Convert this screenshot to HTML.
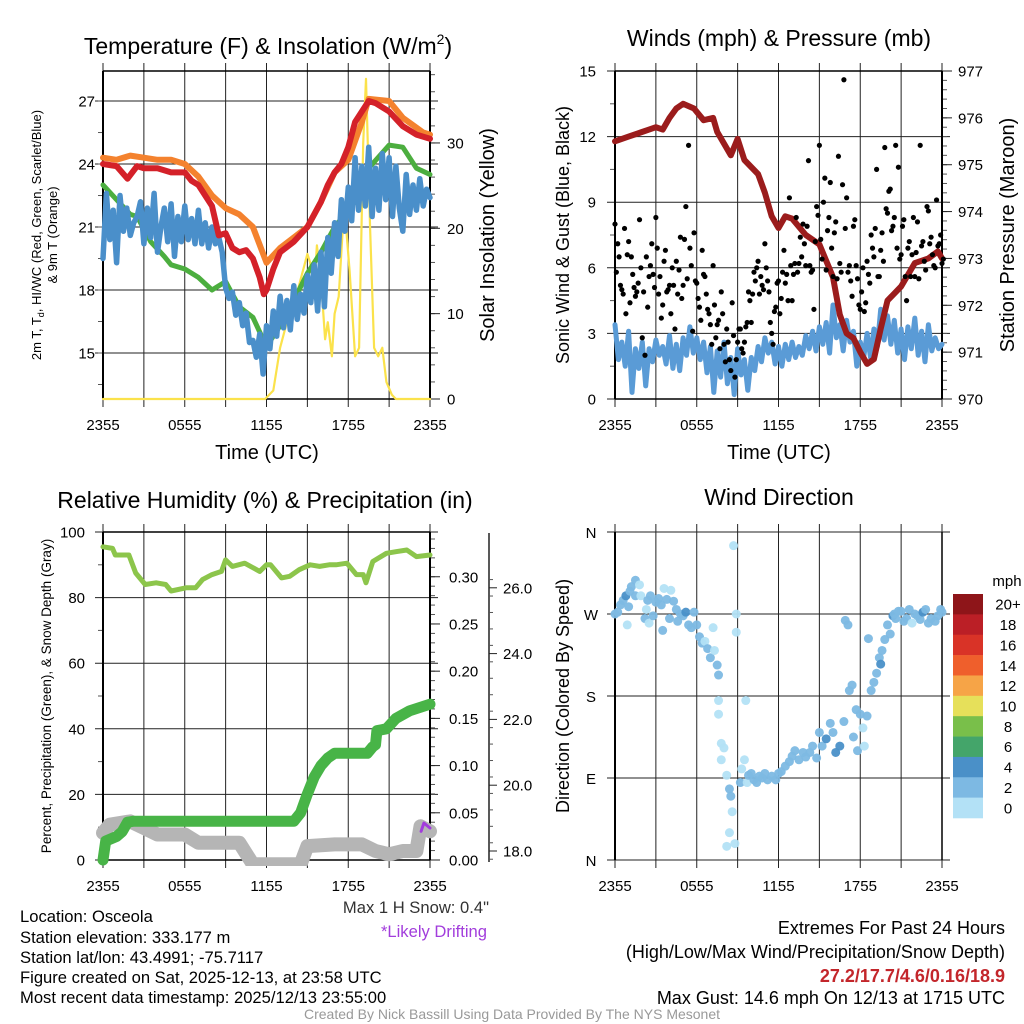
<!DOCTYPE html>
<html><head><meta charset="utf-8"><style>
html,body{margin:0;padding:0;background:#fff;}
svg{display:block;font-family:"Liberation Sans",sans-serif;}
</style></head><body>
<svg id="fig" width="1024" height="1024" viewBox="0 0 1024 1024" xmlns="http://www.w3.org/2000/svg">
<rect x="0" y="0" width="1024" height="1024" fill="#fff"/>
<g id="layer"></g>
<text x="268" y="54" font-size="23" text-anchor="middle">Temperature (F) &amp; Insolation (W/m<tspan font-size="14" dy="-10">2</tspan><tspan dy="10">)</tspan></text>
<text x="779" y="46" font-size="23" text-anchor="middle">Winds (mph) &amp; Pressure (mb)</text>
<text x="265" y="508" font-size="23" text-anchor="middle">Relative Humidity (%) &amp; Precipitation (in)</text>
<text x="779" y="505" font-size="23" text-anchor="middle">Wind Direction</text>
<text x="267" y="459" font-size="20" text-anchor="middle">Time (UTC)</text>
<text x="779" y="459" font-size="20" text-anchor="middle">Time (UTC)</text>
<text transform="translate(41,235) rotate(-90)" font-size="13" text-anchor="middle">2m T, T<tspan font-size="9" dy="3">d</tspan><tspan dy="-3">, HI/WC (Red, Green, Scarlet/Blue)</tspan></text>
<text transform="translate(57,235) rotate(-90)" font-size="13" text-anchor="middle">&amp; 9m T (Orange)</text>
<text transform="translate(494,235) rotate(-90)" font-size="20" text-anchor="middle">Solar Insolation (Yellow)</text>
<text transform="translate(569,235) rotate(-90)" font-size="18" text-anchor="middle">Sonic Wind &amp; Gust (Blue, Black)</text>
<text transform="translate(1014,235) rotate(-90)" font-size="20" text-anchor="middle">Station Pressure (Maroon)</text>
<text transform="translate(51,696) rotate(-90)" font-size="13.5" text-anchor="middle">Percent, Precipitation (Green), &amp; Snow Depth (Gray)</text>
<text transform="translate(569,696) rotate(-90)" font-size="18" text-anchor="middle">Direction (Colored By Speed)</text>
<text x="1007" y="586" font-size="15" text-anchor="middle">mph</text>
<g font-size="16.6">
<text x="20" y="922">Location: Osceola</text>
<text x="20" y="943">Station elevation: 333.177 m</text>
<text x="20" y="963">Station lat/lon: 43.4991; -75.7117</text>
<text x="20" y="983">Figure created on Sat, 2025-12-13, at 23:58 UTC</text>
<text x="20" y="1003">Most recent data timestamp: 2025/12/13 23:55:00</text>
</g>
<text x="489" y="913" font-size="16.6" text-anchor="end" fill="#333">Max 1 H Snow: 0.4"</text>
<text x="487" y="937" font-size="16.6" text-anchor="end" fill="#a23ddc">*Likely Drifting</text>
<g font-size="18" text-anchor="end">
<text x="1005" y="934">Extremes For Past 24 Hours</text>
<text x="1005" y="958">(High/Low/Max Wind/Precipitation/Snow Depth)</text>
<text x="1005" y="982" fill="#c3262b" font-weight="bold">27.2/17.7/4.6/0.16/18.9</text>
<text x="1005" y="1004">Max Gust: 14.6 mph On 12/13 at 1715 UTC</text>
</g>
<text x="512" y="1019" font-size="14" text-anchor="middle" fill="#999">Created By Nick Bassill Using Data Provided By The NYS Mesonet</text>
</svg>
<script>
// ---------- data ----------
const xTickLabels = ["2355","0555","1155","1755","2355"];
const tempTicks = [15,18,21,24,27];
const insTicks = [0,10,20,30];
const windTicks = [0,3,6,9,12,15];
const presTicks = [970,971,972,973,974,975,976,977];
const rhTicks = [0,20,40,60,80,100];
const precipTicks = [0.00,0.05,0.10,0.15,0.20,0.25,0.30];
const snowTicks = [18.0,20.0,22.0,24.0,26.0];
const dirTicks = ["N","E","S","W","N"];
const speedBins = ["0","2","4","6","8","10","12","14","16","18","20+"];
const speedColors = ["#b3e1f6","#7db9e3","#4a90c8","#44a56a","#79bf4a","#e6e05a","#f6a447","#ef5f2c","#d93327","#bb1f26","#8e1519"];

const tHours = [0,1,1.8,2.5,3,4,5,6,6.5,7,8,8.5,9,9.5,10,10.5,11,11.5,11.8,12,12.5,13,14,15,16,16.5,17,17.5,18,18.5,19,19.5,20,21,22,23,24];
const temp2m = [24.0,23.9,23.3,23.9,23.8,23.8,23.6,23.6,23.2,23.0,22.0,20.6,20.7,20.0,19.8,19.9,19.5,18.6,17.8,18.0,19.0,19.8,20.3,21.0,22.2,23.0,23.6,24.0,24.8,26.0,26.5,27.0,26.9,26.5,25.8,25.4,25.2];
const t9Hours = [0,1,2,3,4,5,6,7,8,9,10,11,12,13,14,15,16,17,18,19,19.5,21,22,23.5,24];
const temp9m = [24.3,24.2,24.4,24.3,24.2,24.2,24.0,23.4,22.5,21.9,21.6,21.0,19.3,20.0,20.5,21.0,22.2,23.6,24.2,26.0,27.1,27.0,26.2,25.5,25.4];
const tdHours = [0,1,2,2.5,3.5,4.5,5,6,7,8,9,10,11,12,13,14,15,16,17,18,18.8,19.5,21,22,23,24];
const dewpoint = [23.0,22.3,21.6,21.5,20.3,19.6,19.2,19.0,18.6,18.0,18.4,17.2,16.7,15.3,16.3,17.5,18.8,19.8,21.0,21.8,22.5,23.8,24.9,24.8,23.8,23.5];
const windChill = [19.5,22.6,20.4,21.8,19.3,22.5,20.8,21.9,20.6,21.2,21.5,22.2,20.2,21.9,20.5,22.6,19.8,21.0,21.9,20.3,22.1,19.6,21.5,20.3,22.0,20.4,21.4,20.2,21.8,20.2,21.2,20.0,
21.0,20.2,20.5,19.8,18.1,17.6,17.9,16.8,17.4,16.3,16.9,15.5,15.6,14.8,15.9,14.0,16.3,15.2,17.0,15.8,17.7,16.2,17.5,16.1,18.2,16.6,17.8,16.9,18.7,17.4,19.2,17.0,19.8,17.2,20.5,18.8,21.2,19.6,22.3,20.8,22.9,21.3,24.3,21.8,23.9,22.0,24.8,21.5,23.8,21.8,24.5,22.3,24.3,21.5,23.9,21.9,20.8,23.5,21.6,23.0,21.8,23.3,22.0,22.8,22.4];
const insHours = [0,11.9,12.5,13,13.5,14,14.5,15,15.2,15.5,15.7,16,16.3,16.5,16.8,17,17.3,17.6,17.8,18.1,18.5,18.8,19.1,19.3,19.6,19.9,20.2,20.5,20.8,21.2,21.5,24];
const insolation = [0,0,1,6,9,11,14,17,16,13,18,14,7,9,5,10,12,20,21,15,5,6,30,37.5,20,6,5,6,2,0.5,0,0];

const presHours = [0,1,2,3,3.5,4,4.5,5,5.8,6.5,7.2,7.5,8.5,9,9.5,10.5,11,11.5,12,12.5,13,14,15,16,16.5,17,17.5,18,18.5,19,19.5,20,21,22,23,23.7,24];
const pressure = [975.5,975.6,975.7,975.8,975.75,976.0,976.2,976.3,976.2,975.95,976.0,975.7,975.2,975.55,975.1,974.8,974.4,973.9,973.65,973.9,973.85,973.5,973.3,972.6,971.8,971.4,971.3,971.0,970.75,970.85,971.5,972.1,972.4,972.9,973.0,973.15,973.0];
const sustained = [3.4,1.8,2.6,1.5,3.1,0.3,2.3,1.4,2.6,0.6,2.3,1.7,2.7,2.0,2.4,1.6,
2.9,1.4,2.5,1.3,2.8,2.0,3.3,2.1,2.8,1.8,2.6,1.2,2.4,0.3,2.2,1.0,
2.6,0.7,1.9,0.2,2.3,1.1,1.8,0.4,1.9,1.3,2.4,1.7,2.8,2.1,2.6,1.6,
2.4,1.5,2.5,1.8,2.6,1.9,2.4,2.0,2.9,2.3,3.1,2.2,3.3,2.5,3.5,2.1,
4.3,2.8,3.4,2.2,3.6,2.6,3.1,1.5,2.6,1.9,3.0,1.9,3.2,2.4,4.1,2.7,
3.8,2.5,3.6,2.1,3.2,1.8,3.3,2.3,3.7,2.0,3.1,1.7,3.4,2.2,2.8,2.3,2.5];
const gusts = [8.0,7.1,5.2,4.8,3.9,7.2,6.5,5.1,4.9,8.2,
2.8,2.0,4.2,6.1,5.7,8.3,4.8,3.7,6.3,4.9,
5.2,6.0,3.2,4.8,7.4,5.2,8.8,11.6,6.1,7.6,
5.3,4.2,6.8,5.6,4.1,3.4,6.1,2.8,3.6,4.9,
2.5,3.2,1.8,4.4,1.0,2.6,3.2,2.1,3.3,4.9,
3.5,5.8,6.0,4.8,5.2,7.1,5.4,3.5,2.5,4.2,
5.4,4.6,6.8,5.7,9.2,4.5,6.2,5.8,7.4,8.0,
6.1,10.9,5.8,4.1,8.8,11.6,6.4,10.1,7.7,9.9,
5.6,8.1,11.1,5.8,14.6,9.2,6.1,4.7,8.2,5.5,
4.1,6.0,4.4,5.7,7.5,6.5,10.5,5.6,7.6,11.5,
8.5,9.6,7.9,11.6,10.6,6.6,8.2,4.5,7.2,6.6,
5.6,8.1,11.6,7.2,5.9,8.6,7.4,6.1,9.1,7.1,6.2];
const gusts2 = [5.8,6.5,5.0,7.8,6.6,4.4,5.7,4.7,5.3,6.0,
4.9,6.5,5.6,7.1,5.1,6.9,5.6,4.3,6.8,5.0,
3.9,5.2,6.3,5.9,4.6,7.3,5.5,6.9,3.1,5.4,
4.6,3.6,5.7,4.8,3.9,2.5,4.3,3.4,2.3,3.9,
1.7,2.6,1.3,2.9,1.8,3.2,2.3,2.6,3.5,4.5,
4.8,5.4,6.3,5.6,5.0,6.0,4.9,3.0,4.0,5.3,
3.9,5.8,5.3,4.5,6.1,5.7,8.3,6.2,6.5,7.1,
7.9,6.1,5.9,7.2,8.4,7.3,9.0,5.9,8.3,6.9,
7.6,5.5,6.2,9.8,7.8,5.8,5.4,7.9,6.1,4.3,
4.9,4.0,6.3,5.3,6.9,7.8,5.6,6.8,6.3,8.7,
9.5,7.7,8.3,6.9,6.4,7.9,5.6,6.9,5.6,8.3,
6.7,5.5,7.0,6.3,8.8,7.1,6.6,6.0,7.0,7.5,6.4];

const rhHours = [0,0.7,0.9,1.9,2.4,3.1,3.9,4.6,5.0,6.1,6.8,7.3,8,8.7,9,9.5,10.4,11.5,12,12.3,13.1,13.7,14.4,15.2,15.9,16.6,17.1,17.9,18.6,19.1,19.3,19.8,20.8,21.5,22.3,23,24];
const rh = [95.5,95,93,93,87.5,84,84.5,84,82,83,83,85.5,87,88,91.5,89.5,90.5,88,90,90,86,86.5,88.5,90,89.5,90,90,90.5,87,87,84.5,91,93.5,94,94.5,92.5,93];
const prHours = [0,0.2,1,1.4,1.8,2.2,14,14.5,15,15.5,16,16.5,17,19.4,19.8,20,20.1,20.8,21.5,22.5,24];
const precip = [0,0.02,0.025,0.03,0.04,0.041,0.041,0.05,0.07,0.088,0.1,0.108,0.113,0.113,0.12,0.122,0.137,0.139,0.15,0.158,0.165];
const snHours = [0,0.5,2,3,4,6,7,10,11,14.5,15,17,19,20,21,22,23,23.3,24];
const snowDepth = [18.55,18.8,18.9,18.7,18.5,18.5,18.25,18.25,17.6,17.6,18.15,18.2,18.2,18.0,17.9,18.0,18.0,18.75,18.6];
const driftHours = [23.35,23.55,24];
const driftDepth = [18.6,18.85,18.7];

const dirObs = [[0,270,3],[0.2,272,2],[0.4,280,2],[0.6,285,2],[0.8,290,4],[1.0,278,2],[1.1,295,2],[1.2,300,2],[1.5,307,2],[1.8,302,1],[0.9,258,1],[1.5,290,2],[1.9,290,1],[2.2,265,2],[2.4,285,2],[2.3,275,1],[2.6,290,2],[2.5,260,1],[2.8,268,2],[3.0,283,2],[3.2,287,2],[3.4,280,2],[3.5,252,2],[3.6,298,1],[3.8,286,2],[4.0,265,2],[4.1,296,1],[4.3,284,2],[4.5,275,2],[4.6,262,2],[4.8,270,2],[5.0,268,2],[5.2,272,4],[5.4,258,2],[5.6,255,2],[5.8,272,2],[6.0,258,2],[6.2,245,2],[6.4,238,2],[6.6,240,1],[6.8,232,2],[7.0,222,2],[7.2,255,1],[7.3,230,1],[7.5,214,2],[7.6,203,2],[7.6,175,1],[7.6,160,1],[7.8,128,1],[8.0,123,1],[7.8,110,1],[8.2,93,1],[8.4,78,2],[8.5,70,2],[8.6,53,1],[8.4,30,1],[8.2,15,1],[8.8,18,1],[8.7,345,1],[8.9,270,1],[8.9,250,1],[9.2,85,2],[9.3,100,1],[9.5,110,1],[9.6,175,1],[9.7,85,1],[9.8,93,2],[10.0,95,2],[10.2,88,2],[10.4,85,2],[10.6,92,2],[10.8,90,2],[11.0,95,2],[11.2,88,2],[11.5,92,2],[11.8,88,2],[12.0,95,2],[12.2,97,2],[12.5,103,2],[12.8,108,2],[13.0,114,2],[13.2,120,2],[13.5,110,2],[13.8,118,2],[14.0,113,2],[14.3,118,2],[14.5,125,2],[14.8,112,2],[15.0,140,2],[15.2,125,2],[15.5,133,4],[15.8,150,2],[16.0,140,2],[16.2,118,4],[16.5,125,4],[16.8,152,2],[16.9,263,2],[17.1,258,2],[17.2,186,2],[17.4,192,2],[17.5,135,2],[17.7,165,2],[17.8,120,2],[18.0,160,2],[18.2,145,1],[18.3,125,1],[18.5,158,2],[18.6,243,2],[18.8,186,2],[19.0,195,2],[19.2,205,2],[19.4,222,2],[19.5,215,4],[19.6,230,2],[19.8,242,2],[20.0,258,2],[20.2,248,2],[20.4,268,4],[20.5,270,2],[20.6,265,2],[20.8,273,2],[21.0,273,2],[21.2,262,2],[21.4,265,2],[21.6,275,2],[21.8,260,1],[22.0,270,2],[22.2,268,2],[22.4,264,2],[22.6,272,4],[22.8,275,2],[23.0,260,2],[23.2,265,2],[23.5,262,2],[23.7,268,2],[23.9,275,2],[24.0,272,2]];

// ---------- drawing ----------
const NS = "http://www.w3.org/2000/svg";
const layer = document.getElementById('layer');
function mk(tag, attrs, parent){
  const e = document.createElementNS(NS, tag);
  for (const k in attrs) e.setAttribute(k, attrs[k]);
  (parent||layer).appendChild(e);
  return e;
}
const W = 327;
function xs(x0){ return h => x0 + h/24*W; }
function ys(y0,y1,lo,hi){ return v => y1 - (v-lo)/(hi-lo)*(y1-y0); }

function linePath(g, hours, vals, X, Y, color, width, name){
  let d = "";
  for (let i=0;i<vals.length;i++){ d += (i?"L":"M") + X(hours[i]).toFixed(1) + "," + Y(vals[i]).toFixed(1); }
  const p = mk('path',{d:d,fill:'none',stroke:color,'stroke-width':width,'stroke-linejoin':'round','stroke-linecap':'round'},g);
  
  
  return p;
}

function frame(x0,y0,y1,name){
  const g = mk('g',{});
  
  
  const X = xs(x0);
  for (let i=0;i<=8;i++){
    const x = X(i*3);
    const l = mk('line',{x1:x,x2:x,y1:y0-8,y2:y1+8,stroke:'#222','stroke-width':1},g);
    
    
  }
  xTickLabels.forEach((s,i)=>{
    const t = mk('text',{x:X(i*6),y:y1+31,'font-size':15,'text-anchor':'middle'},g);
    
    
    t.textContent = s;
  });
  return {g:g,X:X};
}
function hgrid(g,x0,y,label,lx){
  const l = mk('line',{x1:x0-8,x2:x0+W+8,y1:y,y2:y,stroke:'#222','stroke-width':1},g);
  
  
  const t = mk('text',{x:lx,y:y+5.5,'font-size':15,'text-anchor':'end'},g);
  
  
  t.textContent = label;
}
function rightTicks(g,xr,Y,ticks,fmt,lx,minorStep,lo,hi){
  for (let v=lo; v<=hi+1e-9; v+=minorStep){
    mk('line',{x1:xr,x2:xr+5,y1:Y(v),y2:Y(v),stroke:'#555','stroke-width':1},g);
  }
  ticks.forEach(v=>{
    mk('line',{x1:xr,x2:xr+10,y1:Y(v),y2:Y(v),stroke:'#222','stroke-width':1},g);
    const t = mk('text',{x:lx,y:Y(v)+5.5,'font-size':15},g);
    
    
    t.textContent = fmt(v);
  });
}
function border(g,x0,y0,y1){
  mk('line',{x1:x0,x2:x0,y1:y0,y2:y1,stroke:'#000','stroke-width':2},g);
  mk('line',{x1:x0+W,x2:x0+W,y1:y0,y2:y1,stroke:'#000','stroke-width':2},g);
  mk('line',{x1:x0,x2:x0+W,y1:y0,y2:y0,stroke:'#000','stroke-width':1.5},g);
  mk('line',{x1:x0,x2:x0+W,y1:y1,y2:y1,stroke:'#000','stroke-width':1.5},g);
}

// Panel 1: temperature
(function(){
  const x0=103,y0=71,y1=399;
  const f = frame(x0,y0,y1,'temperature-panel'); const g=f.g, X=f.X;
  const Y = ys(y0,y1,12.81,28.43);
  const Yi = ys(y0,y1,0,38.43);
  tempTicks.forEach(v=>hgrid(g,x0,Y(v),String(v),95));
  for (let v=13.5; v<28.4; v+=1.5){ mk('line',{x1:x0-5,x2:x0,y1:Y(v),y2:Y(v),stroke:'#555'},g); }
  rightTicks(g,x0+W,Yi,insTicks,v=>String(v),447,2,0,38);
  border(g,x0,y0,y1);
  linePath(g,insHours,insolation,X,Yi,'#fbe24b',2.2,'insolation-line');
  linePath(g,tdHours,dewpoint,X,Y,'#4cae3f',5,'dewpoint-line');
  const wh = windChill.map((v,i)=>i*0.25);
  linePath(g,wh,windChill,X,Y,'#4a8fca',5.5,'windchill-line');
  linePath(g,t9Hours,temp9m,X,Y,'#f4822e',6,'temp-9m-line');
  linePath(g,tHours,temp2m,X,Y,'#d42129',6,'temp-2m-line');
})();

// Panel 2: winds & pressure
(function(){
  const x0=615,y0=71,y1=399;
  const f = frame(x0,y0,y1,'wind-panel'); const g=f.g, X=f.X;
  const Y = ys(y0,y1,0,15);
  const Yp = ys(y0,y1,970,977);
  windTicks.forEach(v=>hgrid(g,x0,Y(v),String(v),596));
  for (let v=1.5; v<15; v+=3){ mk('line',{x1:x0-5,x2:x0,y1:Y(v),y2:Y(v),stroke:'#555'},g); }
  rightTicks(g,x0+W,Yp,presTicks,v=>String(v),958,0.2,970,977);
  border(g,x0,y0,y1);
  const sh = sustained.map((v,i)=>i*0.25);
  linePath(g,sh,sustained,X,Y,'#5a9bd6',5,'sustained-wind-line');
  linePath(g,presHours,pressure,X,Yp,'#9b1c1c',6,'pressure-line');
  gusts.forEach((v,i)=>{
    const c = mk('circle',{cx:X(i*0.2),cy:Y(v),r:2.6,fill:'#000'},g);
    
    
  });
  gusts2.forEach((v,i)=>{
    const c = mk('circle',{cx:X(i*0.2+0.1),cy:Y(v),r:2.6,fill:'#000'},g);
    
    
  });
})();

// Panel 3: RH & precip
(function(){
  const x0=103,y0=532,y1=860;
  const f = frame(x0,y0,y1,'humidity-panel'); const g=f.g, X=f.X;
  const Y = ys(y0,y1,0,100);
  const Yp = ys(y0,y1,0,0.3474);
  const Ys = v => 851 - (v-18)*32.9;
  rhTicks.forEach(v=>hgrid(g,x0,Y(v),String(v),85));
  for (let v=10; v<100; v+=20){ mk('line',{x1:x0-5,x2:x0,y1:Y(v),y2:Y(v),stroke:'#555'},g); }
  rightTicks(g,x0+W,Yp,precipTicks,v=>v.toFixed(2),449,0.01,0,0.34);
  mk('line',{x1:489,x2:489,y1:533,y2:862,stroke:'#222','stroke-width':1.5},g);
  for (let v=17.75; v<=26.7; v+=0.5){ mk('line',{x1:489,x2:493,y1:Ys(v),y2:Ys(v),stroke:'#555'},g); }
  snowTicks.forEach(v=>{
    mk('line',{x1:489,x2:497,y1:Ys(v),y2:Ys(v),stroke:'#222'},g);
    const t = mk('text',{x:503,y:Ys(v)+5.5,'font-size':15},g);
    
    
    t.textContent = v.toFixed(1);
  });
  border(g,x0,y0,y1);
  const clip = mk('clipPath',{id:'c3'},g);
  mk('rect',{x:x0-10,y:y0,width:W+20,height:y1-y0+6},clip);
  const cg = mk('g',{'clip-path':'url(#c3)'},g);
  linePath(cg,snHours,snowDepth,X,Ys,'#b5b5b5',14,'snow-depth-line');
  linePath(g,rhHours,rh,X,Y,'#8cc54b',5,'rh-line');
  linePath(g,prHours,precip,X,Yp,'#48b447',11,'precip-line');
  linePath(g,driftHours,driftDepth,X,Ys,'#a23ddc',3,'drifting-line');
})();

// Panel 4: wind direction
(function(){
  const x0=615,y0=532,y1=860;
  const f = frame(x0,y0,y1,'direction-panel'); const g=f.g, X=f.X;
  const Y = ys(y0,y1,0,360);
  dirTicks.forEach((s,i)=>{
    const y = Y(i*90);
    const l = mk('line',{x1:x0-8,x2:x0+W+8,y1:y,y2:y,stroke:'#222','stroke-width':1},g);
    
    
    const t = mk('text',{x:591,y:y+6,'font-size':15,'text-anchor':'middle'},g);
    
    
    t.textContent = s;
  });
  mk('line',{x1:x0,x2:x0,y1:y0,y2:y1,stroke:'#000','stroke-width':2},g);
  mk('line',{x1:x0+W,x2:x0+W,y1:y0,y2:y1,stroke:'#000','stroke-width':1.5},g);
  dirObs.forEach(o=>{
    const bin = Math.min(10, Math.floor(o[2]/2));
    const c = mk('circle',{cx:X(o[0]),cy:Y(o[1]),r:4.5,fill:speedColors[bin],'fill-opacity':0.95},g);
    
    
  });
  const cb = mk('g',{});
  
  
  const segH = 224/speedBins.length;
  speedBins.forEach((s,i)=>{
    const k = speedBins.length-1-i;
    const y = 594 + i*segH;
    const r = mk('rect',{x:953,y:y,width:30,height:segH+0.3,fill:speedColors[k]},cb);
    
    
    const t = mk('text',{x:1008,y:y+segH/2+5.5,'font-size':15,'text-anchor':'middle'},cb);
    
    
    t.textContent = speedBins[k];
  });
})();
</script>
</body></html>
